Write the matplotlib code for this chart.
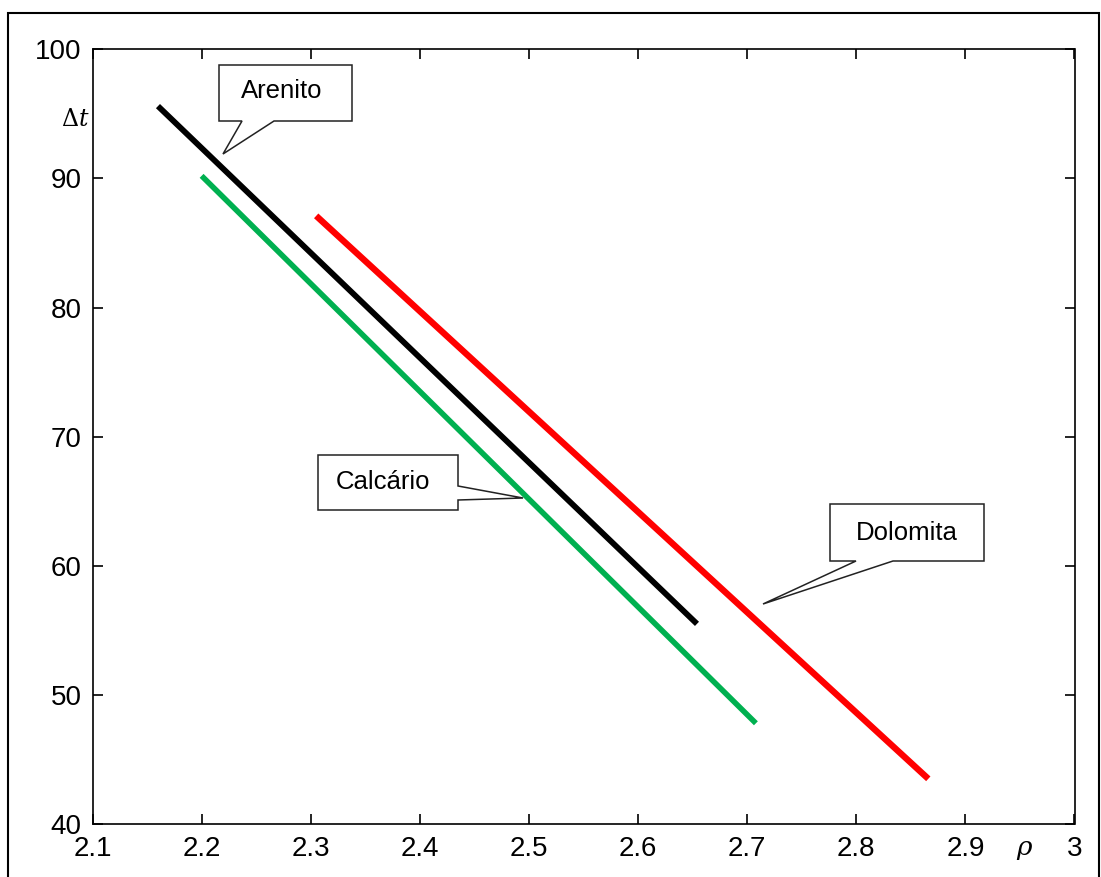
import matplotlib
matplotlib.use("Agg")
import matplotlib.pyplot as plt
from matplotlib.patches import Polygon, Rectangle

plt.rcParams['font.family'] = ['Liberation Sans', 'DejaVu Sans']

# Data
series_names = ["Arenito", "Calcário", "Dolomita"]
arenito_rho = [2.16, 2.654]
arenito_dt = [95.6, 55.5]
calcario_rho = [2.20, 2.708]
calcario_dt = [90.2, 47.8]
dolomita_rho = [2.305, 2.866]
dolomita_dt = [87.1, 43.5]
xticks = [2.1, 2.2, 2.3, 2.4, 2.5, 2.6, 2.7, 2.8, 2.9, 3.0]
xtick_labels = ["2.1", "2.2", "2.3", "2.4", "2.5", "2.6", "2.7", "2.8", "2.9", "3"]
yticks = [40, 50, 60, 70, 80, 90, 100]

W, H = 1101, 877
fig = plt.figure(figsize=(W / 100, H / 100), dpi=100)

# outer frame
fig.add_artist(Rectangle((8 / W, -0.05), (1098.5 - 8) / W, 1.05 - 13 / H,
                         transform=fig.transFigure, fill=False, edgecolor='black', lw=1.5))

L, R, T, B = 92.5, 1074.5, 49.3, 824.0
ax = fig.add_axes([L / W, (H - B) / H, (R - L) / W, (B - T) / H])

ax.plot(arenito_rho, arenito_dt, color='black', lw=4.2, solid_capstyle='butt')
ax.plot(calcario_rho, calcario_dt, color='#00B050', lw=4.0, solid_capstyle='butt')
ax.plot(dolomita_rho, dolomita_dt, color='#FF0000', lw=4.6, solid_capstyle='butt')

ax.set_xlim(2.1, 3.0)
ax.set_ylim(40, 100)
ax.set_xticks(xticks)
ax.set_xticklabels(xtick_labels)
ax.set_yticks(yticks)
ax.tick_params(direction='in', length=7, width=1.2, top=True, right=True,
               labelsize=20, colors='black')
ax.tick_params(axis='x', pad=9)
ax.tick_params(axis='y', pad=8)
for s in ax.spines.values():
    s.set_linewidth(1.2)


def px(x, y):
    return ((x - L) / (R - L), (B - y) / (B - T))


def callout(pts, text, center):
    poly = Polygon([px(*p) for p in pts], closed=True, transform=ax.transAxes,
                   facecolor='white', edgecolor='#222222', lw=1.1, clip_on=False, zorder=5)
    ax.add_patch(poly)
    cx, cy = px(*center)
    ax.text(cx, cy, text, transform=ax.transAxes, ha='center', va='center',
            fontsize=18.5, zorder=6)


callout([(219, 65), (352, 65), (352, 121), (274, 121), (223, 154), (242, 121), (219, 121)],
        series_names[0], (282, 91))
callout([(318, 455), (458, 455), (458, 486), (523, 498), (458, 500), (458, 510), (318, 510)],
        series_names[1], (383, 482))
callout([(830, 504), (984, 504), (984, 561), (893, 561), (763, 604), (856, 561), (830, 561)],
        series_names[2], (907, 533))

# axis symbols
fig.text(75 / W, 1 - 120 / H, r'$\Delta t$', ha='center', va='center', fontsize=17,
         math_fontfamily='dejavuserif')
fig.text(1025 / W, 1 - 850 / H, r'$\rho$', ha='center', va='center', fontsize=19,
         math_fontfamily='dejavuserif')

fig.savefig("out.png", dpi=100)
